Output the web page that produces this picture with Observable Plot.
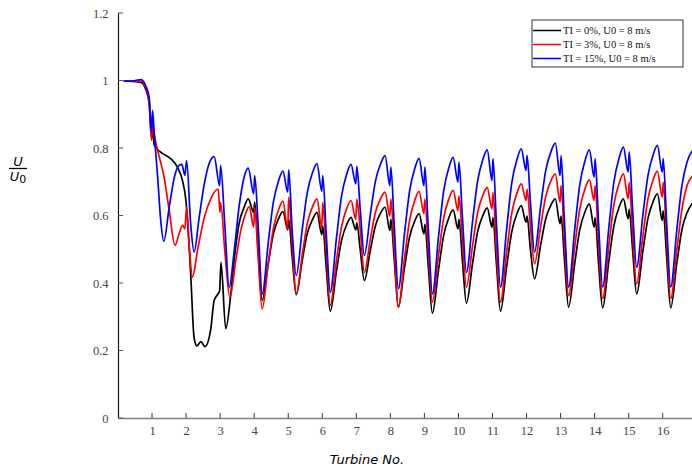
<!DOCTYPE html>
<html><head><meta charset="utf-8">
<script src="https://cdn.jsdelivr.net/npm/d3@7"></script>
<script src="https://cdn.jsdelivr.net/npm/@observablehq/plot@0.6"></script>
<style>body{margin:0;background:#fff}#chart{width:692px;height:467px}</style>
</head><body><div id="chart"></div>
<script>
// ---------- data ----------
const seriesNames = ["TI = 0%, U0 = 8 m/s", "TI = 3%, U0 = 8 m/s", "TI = 15%, U0 = 8 m/s"];
const seriesColors = ["#000000", "#ff0000", "#0000ff"];
const xTicks = [1,2,3,4,5,6,7,8,9,10,11,12,13,14,15,16];
const yTicks = [0, 0.2, 0.4, 0.6, 0.8, 1, 1.2];

// first turbines (each series has its own positions)
const headXBlack = [0.17,0.4,0.66,0.8,0.9,0.97,1.0,1.05,1.24,1.54,1.73,1.88,1.98,2.12,2.22,2.3,2.42,2.54,2.71,2.81,2.9,2.97,3.01,3.15,3.3,3.42,3.54,3.69,3.81,3.97,4.0,4.1];
const headVBlack = [1.0,0.999,0.996,0.975,0.935,0.83,0.85,0.81,0.789,0.769,0.745,0.705,0.646,0.429,0.24,0.215,0.228,0.213,0.265,0.35,0.366,0.378,0.463,0.266,0.37,0.49,0.577,0.626,0.651,0.611,0.641,0.5];

const headXRed = [0.17,0.4,0.66,0.8,0.9,0.97,1.0,1.05,1.15,1.34,1.49,1.66,1.78,1.88,1.95,2.0,2.08,2.17,2.32,2.52,2.71,2.93,2.98,3.0,3.12,3.27,3.45,3.6,3.73,3.84,3.97,4.0,4.1];
const headVRed = [1.0,1.0,0.999,0.98,0.94,0.824,0.87,0.84,0.794,0.715,0.616,0.513,0.547,0.572,0.562,0.626,0.508,0.419,0.498,0.596,0.651,0.68,0.611,0.64,0.5,0.359,0.472,0.561,0.606,0.628,0.567,0.626,0.48];

const headXBlue = [0.17,0.4,0.66,0.8,0.9,0.97,1.0,1.05,1.15,1.24,1.33,1.49,1.64,1.78,1.86,1.95,2.0,2.12,2.22,2.37,2.52,2.66,2.81,2.97,3.0,3.12,3.25,3.4,3.54,3.69,3.81,3.97,4.0,4.1];
const headVBlue = [1.0,1.0,1.004,0.986,0.952,0.848,0.913,0.844,0.715,0.587,0.525,0.626,0.715,0.75,0.753,0.72,0.764,0.577,0.493,0.596,0.695,0.755,0.776,0.69,0.75,0.577,0.389,0.498,0.626,0.715,0.742,0.666,0.72,0.577];

// periodic part (shared positions): min, recovery, peak, notch dip, notch spike, fall
const tailX = [
  4.22,4.4,4.55,4.7,4.83,4.97,5.0,5.1,
  5.22,5.4,5.55,5.7,5.83,5.97,6.0,6.1,
  6.22,6.4,6.55,6.7,6.83,6.97,7.0,7.1,
  7.22,7.4,7.55,7.7,7.83,7.97,8.0,8.1,
  8.22,8.4,8.55,8.7,8.83,8.97,9.0,9.1,
  9.22,9.4,9.55,9.7,9.83,9.97,10.0,10.1,
  10.22,10.4,10.55,10.7,10.83,10.97,11.0,11.1,
  11.22,11.4,11.55,11.7,11.83,11.97,12.0,12.1,
  12.22,12.4,12.55,12.7,12.83,12.97,13.0,13.1,
  13.22,13.4,13.55,13.7,13.83,13.97,14.0,14.1,
  14.22,14.4,14.55,14.7,14.83,14.97,15.0,15.1,
  15.22,15.4,15.55,15.7,15.83,15.97,16.0,16.1,
  16.22,16.4,16.55,16.7,16.86
];
const tailVBlack = [
  0.35,0.46,0.547,0.592,0.613,0.559,0.59,0.48,
  0.367,0.47,0.55,0.59,0.611,0.545,0.57,0.45,
  0.318,0.435,0.527,0.574,0.596,0.559,0.58,0.5,
  0.409,0.5,0.572,0.609,0.626,0.557,0.59,0.47,
  0.33,0.446,0.538,0.585,0.607,0.547,0.575,0.45,
  0.312,0.44,0.542,0.594,0.618,0.562,0.59,0.47,
  0.342,0.46,0.554,0.601,0.624,0.567,0.595,0.46,
  0.318,0.449,0.553,0.606,0.631,0.582,0.6,0.5,
  0.414,0.514,0.592,0.632,0.651,0.577,0.6,0.47,
  0.33,0.459,0.56,0.612,0.636,0.567,0.595,0.46,
  0.328,0.464,0.57,0.625,0.651,0.592,0.62,0.5,
  0.369,0.494,0.592,0.642,0.666,0.587,0.615,0.48,
  0.328,0.46,0.56,0.61,0.638
];
const tailVRed = [
  0.325,0.459,0.564,0.618,0.644,0.562,0.656,0.52,
  0.369,0.487,0.58,0.628,0.651,0.565,0.64,0.5,
  0.335,0.466,0.568,0.621,0.646,0.59,0.65,0.56,
  0.433,0.533,0.612,0.652,0.671,0.6,0.65,0.5,
  0.33,0.474,0.587,0.646,0.673,0.607,0.65,0.5,
  0.345,0.484,0.593,0.65,0.676,0.616,0.66,0.53,
  0.389,0.513,0.611,0.661,0.685,0.621,0.67,0.5,
  0.345,0.492,0.608,0.667,0.695,0.646,0.68,0.57,
  0.458,0.57,0.658,0.704,0.725,0.641,0.69,0.52,
  0.364,0.508,0.621,0.68,0.707,0.646,0.69,0.52,
  0.355,0.51,0.633,0.695,0.725,0.651,0.7,0.55,
  0.399,0.539,0.65,0.706,0.733,0.656,0.7,0.53,
  0.355,0.5,0.62,0.69,0.718
];
const tailVBlue = [
  0.369,0.522,0.642,0.704,0.733,0.671,0.737,0.56,
  0.424,0.563,0.672,0.729,0.755,0.673,0.72,0.55,
  0.374,0.533,0.658,0.723,0.753,0.695,0.747,0.62,
  0.483,0.607,0.705,0.755,0.779,0.69,0.745,0.57,
  0.384,0.547,0.674,0.74,0.771,0.69,0.745,0.56,
  0.369,0.539,0.673,0.742,0.774,0.7,0.76,0.6,
  0.433,0.585,0.705,0.767,0.796,0.705,0.77,0.58,
  0.389,0.561,0.697,0.766,0.799,0.735,0.78,0.64,
  0.493,0.629,0.735,0.79,0.816,0.72,0.779,0.58,
  0.389,0.56,0.694,0.763,0.796,0.715,0.77,0.58,
  0.389,0.563,0.7,0.77,0.804,0.73,0.79,0.62,
  0.448,0.6,0.719,0.78,0.809,0.73,0.77,0.58,
  0.389,0.56,0.69,0.76,0.794
];

// ---------- table ----------
const rows = [];
function addSeries(name, xs, vs) { xs.forEach((x, i) => rows.push({series: name, x, v: vs[i]})); }
addSeries(seriesNames[0], headXBlack.concat(tailX), headVBlack.concat(tailVBlack));
addSeries(seriesNames[1], headXRed.concat(tailX), headVRed.concat(tailVRed));
addSeries(seriesNames[2], headXBlue.concat(tailX), headVBlue.concat(tailVBlue));

// ---------- plot ----------
const serif = "'Liberation Serif', 'Times New Roman', serif";
const plot = Plot.plot({
  width: 692, height: 467,
  marginLeft: 118, marginRight: 0, marginTop: 13, marginBottom: 49,
  x: {domain: [0, 16.86]},
  y: {domain: [0, 1.2]},
  color: {domain: seriesNames, range: seriesColors},
  style: {background: "white", overflow: "visible"},
  marks: [
    Plot.axisY({ticks: yTicks, tickSize: 0, tickPadding: 10, label: null, tickFormat: d3.format(""),
      fontSize: 12.5, fill: "#444"}),
    Plot.axisX({ticks: xTicks, tickSize: 0, tickPadding: 8, label: null,
      fontSize: 12.5, fill: "#444"}),
    Plot.line(rows, {x: "x", y: "v", z: "series", stroke: "series", curve: "monotone-x", strokeWidth: 1.7}),
    Plot.ruleY([0], {stroke: "#7f7f7f", strokeWidth: 1.6}),
    Plot.ruleX([0], {stroke: "#1a1a1a", strokeWidth: 1.2})
  ]
});
document.getElementById("chart").appendChild(plot);

const svg = d3.select(plot);
// tick labels in a serif face
svg.attr("font-family", serif);
svg.selectAll("g, text").attr("font-family", serif).style("font-family", serif);

const sx = plot.scale("x"), sy = plot.scale("y");
const x0 = sx.apply(0), y0 = sy.apply(0);
// inward ticks
yTicks.forEach(t => svg.append("line")
  .attr("x1", x0).attr("x2", x0 + 5).attr("y1", sy.apply(t)).attr("y2", sy.apply(t))
  .attr("stroke", "#555").attr("stroke-width", 1));
xTicks.forEach(t => svg.append("line")
  .attr("x1", sx.apply(t)).attr("x2", sx.apply(t)).attr("y1", y0).attr("y2", y0 - 5)
  .attr("stroke", "#333").attr("stroke-width", 1));

// axis titles
const sans = "'DejaVu Sans', sans-serif";
svg.append("text").attr("x", 367).attr("y", 464).attr("text-anchor", "middle")
  .style("font-family", sans).attr("font-style", "italic")
  .attr("font-size", 13).attr("fill", "#000").text("Turbine No.");
const yl = svg.append("g").style("font-family", sans).attr("fill", "#000").attr("font-size", 13);
yl.append("text").attr("x", 18).attr("y", 166).attr("text-anchor", "middle").attr("font-style", "italic").text("U");
yl.append("line").attr("x1", 9).attr("x2", 27).attr("y1", 168.5).attr("y2", 168.5).attr("stroke", "#000").attr("stroke-width", 1.3);
const den = yl.append("text").attr("x", 18).attr("y", 181).attr("text-anchor", "middle");
den.append("tspan").attr("font-style", "italic").text("U");
den.append("tspan").attr("font-size", 11).attr("dy", 2).text("0");

// legend
const lg = svg.append("g").attr("text-anchor", "start");
lg.append("rect").attr("x", 532).attr("y", 20).attr("width", 151).attr("height", 47)
  .attr("fill", "white").attr("stroke", "#333").attr("stroke-width", 1);
seriesNames.forEach((name, i) => {
  const yy = 30.5 + i * 14;
  lg.append("line").attr("x1", 533).attr("x2", 561).attr("y1", yy).attr("y2", yy)
    .attr("stroke", seriesColors[i]).attr("stroke-width", 1.5);
  lg.append("text").attr("x", 563).attr("y", yy + 3.5).attr("text-anchor", "start")
    .style("font-family", serif).attr("font-size", 10.5).attr("fill", "#111").text(name);
});
</script></body></html>
